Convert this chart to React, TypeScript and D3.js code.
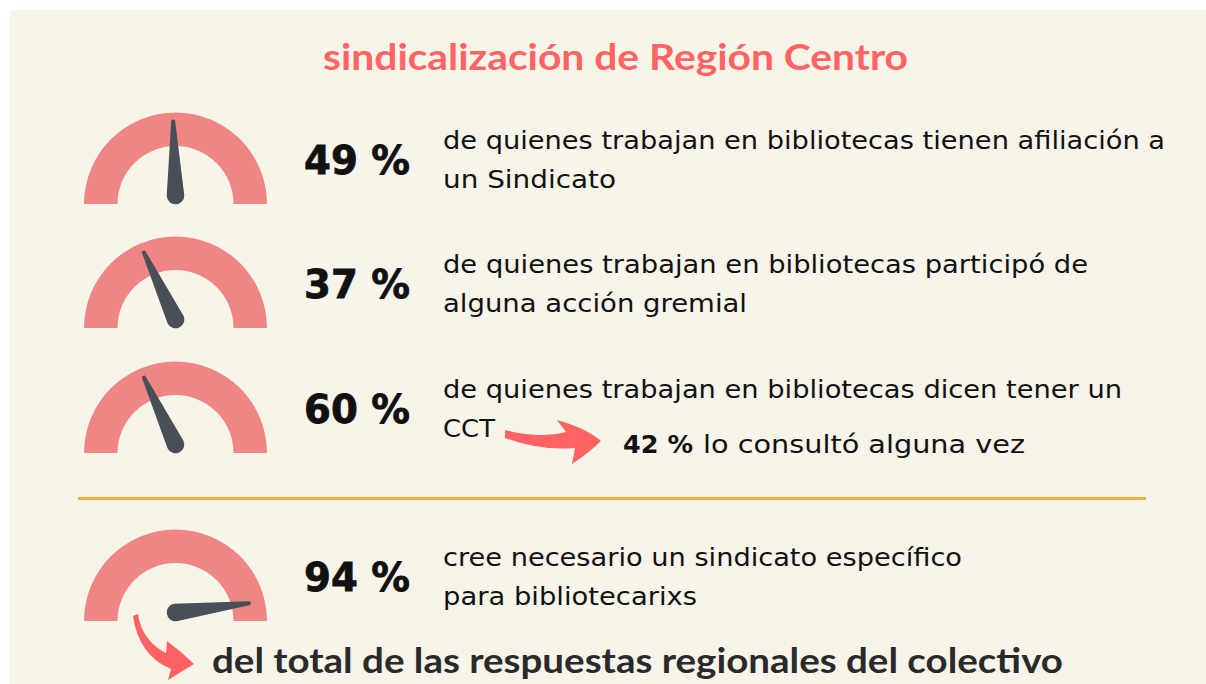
import React from "react";
import * as d3 from "d3";

// ---- data ----
const title = "sindicalización de Región Centro";
const percentLabels = ["49 %", "37 %", "60 %", "94 %"];
// needle positions as drawn in the picture (percent of the half dial)
const needleReadings = [49, 36, 36, 96];
const descriptionLine1 = [
  "de quienes trabajan en bibliotecas tienen afiliación a",
  "de quienes trabajan en bibliotecas participó de",
  "de quienes trabajan en bibliotecas dicen tener un",
  "cree necesario un sindicato específico",
];
const descriptionLine2 = ["un Sindicato", "alguna acción gremial", "CCT", "para bibliotecarixs"];
const cctPercent = "42 %";
const cctText = "lo consultó alguna vez";
const footer = "del total de las respuestas regionales del colectivo";

// ---- layout ----
const W = 1206;
const H = 684;
const rowBaselines = [204, 328, 453, 621];
const line1Widths = [722, 645, 679, 519];
const line2Widths = [173, 304, 52, 254];
const gaugeCx = 175.5;
const outerR = 91.5;
const innerR = 58;
const needleLen = 74;
const needleBaseR = 8.8;
const needleTipR = 2;

const COLORS = {
  bg: "#f7f4e9",
  gauge: "#ef8585",
  needle: "#484f57",
  title: "#ff6464",
  text: "#111111",
  footer: "#2a2a2a",
  rule: "#ebb242",
  arrow: "#ff6262",
};

const bodyFont = "'DejaVu Sans', sans-serif";
const headFont = "Lato, 'Liberation Sans', sans-serif";

export default function App() {
  const arcGen = d3
    .arc()
    .innerRadius(innerR)
    .outerRadius(outerR)
    .startAngle(-Math.PI / 2)
    .endAngle(Math.PI / 2);
  const gaugePath = arcGen({} as any) as string;

  const angle = d3.scaleLinear().domain([0, 100]).range([-90, 90]);

  const needlePath = `M${-needleBaseR},0 L${-needleTipR},${-needleLen} A${needleTipR},${needleTipR} 0 0 1 ${needleTipR},${-needleLen} L${needleBaseR},0 A${needleBaseR},${needleBaseR} 0 0 1 ${-needleBaseR},0 Z`;

  const arrowCCT =
    "M505,430 Q540,439 566,432 L557,420 Q586,428 601,441 Q590,452 572,464 L575,448 Q540,451 505,438 Z";
  const arrowFooter =
    "M133,616 L138,614 Q142,641 166,653 L167,641 Q182,652 194,664 Q181,672 168,680 L171,669 Q139,656 133,616 Z";

  return (
    <svg
      width={W}
      height={H}
      style={{ position: "absolute", left: 0, top: 0, background: "#ffffff" }}
    >
      <rect x={10} y={10} width={W - 10} height={H - 10} fill={COLORS.bg} />

      <text
        x={615.5}
        y={70}
        textAnchor="middle"
        fontFamily={headFont}
        fontWeight={700}
        fontSize={37}
        fill={COLORS.title}
        textLength={585}
        lengthAdjust="spacingAndGlyphs"
      >
        {title}
      </text>

      {percentLabels.map((p, i) => {
        const gb = rowBaselines[i];
        return (
          <g key={i}>
            <path d={gaugePath} transform={`translate(${gaugeCx},${gb})`} fill={COLORS.gauge} />
            <path
              d={needlePath}
              fill={COLORS.needle}
              transform={`translate(${gaugeCx},${gb - 8.5}) rotate(${angle(needleReadings[i])})`}
            />
            <text
              x={304}
              y={gb - 30}
              fontFamily={bodyFont}
              fontWeight={700}
              fontSize={38.5}
              fill={COLORS.text}
              stroke={COLORS.text}
              strokeWidth={0.8}
              textLength={106}
              lengthAdjust="spacingAndGlyphs"
            >
              {p}
            </text>
            <text
              x={443}
              y={gb - 55}
              fontFamily={bodyFont}
              fontSize={24}
              fill={COLORS.text}
              textLength={line1Widths[i]}
              lengthAdjust="spacingAndGlyphs"
            >
              {descriptionLine1[i]}
            </text>
            <text
              x={443}
              y={gb - 16}
              fontFamily={bodyFont}
              fontSize={24}
              fill={COLORS.text}
              textLength={line2Widths[i]}
              lengthAdjust="spacingAndGlyphs"
            >
              {descriptionLine2[i]}
            </text>
          </g>
        );
      })}

      <path d={arrowCCT} fill={COLORS.arrow} />
      <text
        x={623}
        y={453}
        fontFamily={bodyFont}
        fontWeight={700}
        fontSize={24}
        fill={COLORS.text}
        textLength={70}
        lengthAdjust="spacingAndGlyphs"
      >
        {cctPercent}
      </text>
      <text
        x={703}
        y={453}
        fontFamily={bodyFont}
        fontSize={24}
        fill={COLORS.text}
        textLength={322}
        lengthAdjust="spacingAndGlyphs"
      >
        {cctText}
      </text>

      <line x1={78} x2={1146} y1={498.5} y2={498.5} stroke={COLORS.rule} strokeWidth={3} />

      <path d={arrowFooter} fill={COLORS.arrow} />
      <text
        x={212}
        y={673}
        fontFamily={headFont}
        fontWeight={700}
        fontSize={34}
        fill={COLORS.footer}
        textLength={851}
        lengthAdjust="spacingAndGlyphs"
      >
        {footer}
      </text>
    </svg>
  );
}
